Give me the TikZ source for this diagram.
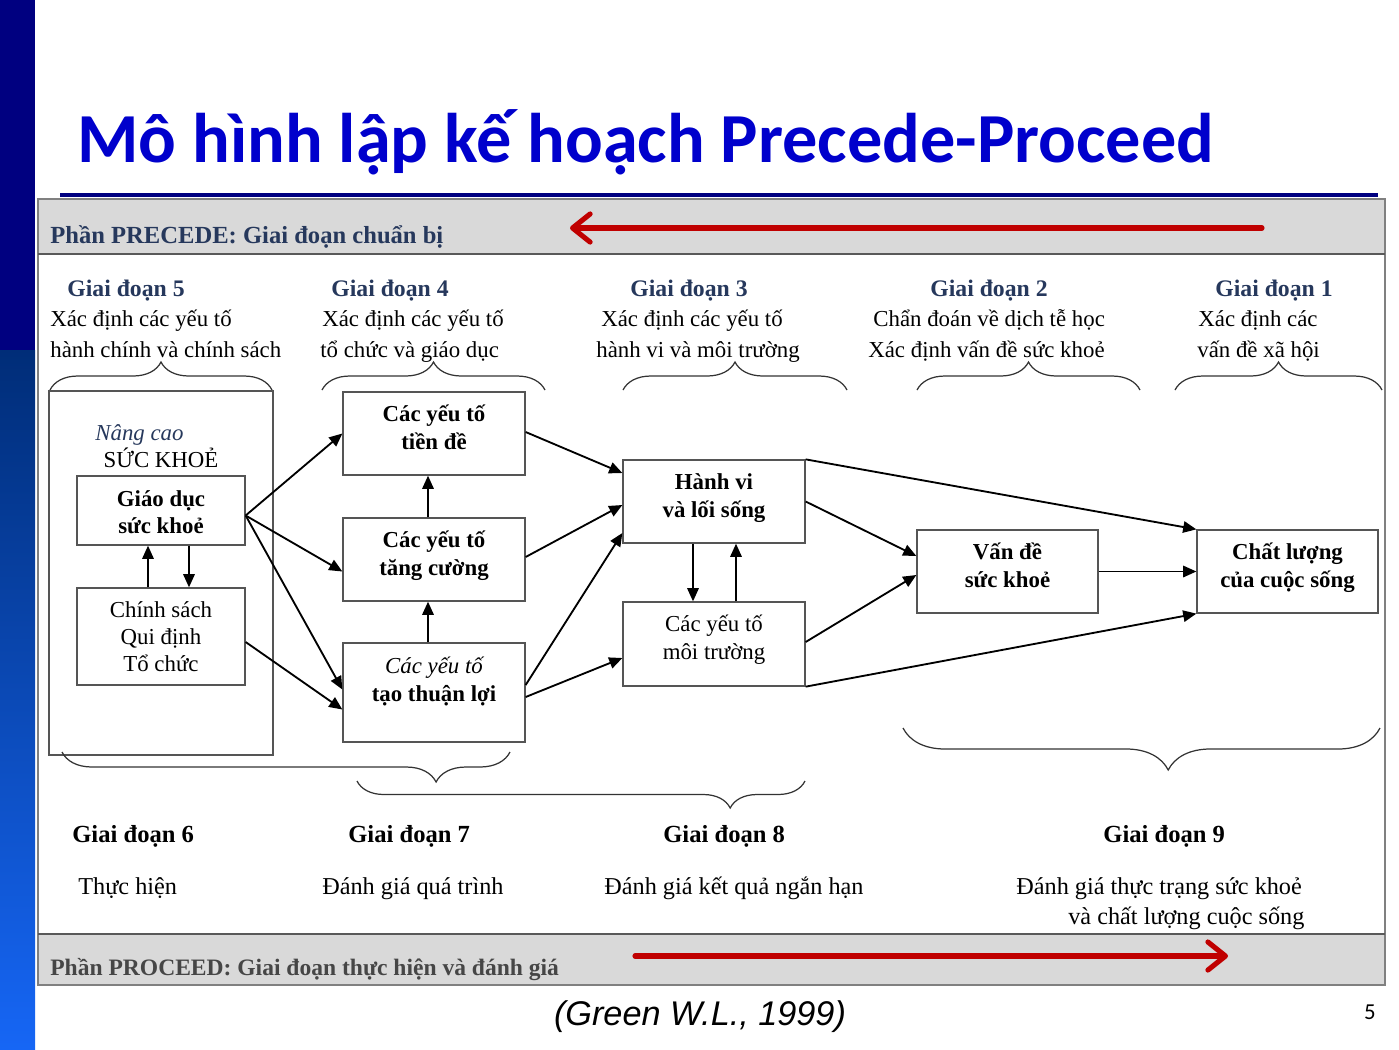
\documentclass[tikz,border=0pt]{standalone}
\usepackage{fontspec}
\setmainfont{Liberation Serif}
\newfontfamily\titlefont{Carlito}
\newfontfamily\arialfont{Liberation Sans}
\usetikzlibrary{arrows.meta,decorations.pathreplacing,calc}
\definecolor{titleblue}{RGB}{0,0,204}
\definecolor{navybar}{RGB}{0,0,128}
\definecolor{barTop}{RGB}{0,45,120}
\definecolor{barBot}{RGB}{22,102,245}
\definecolor{slate}{RGB}{38,56,92}
\definecolor{bandgray}{RGB}{217,217,217}
\definecolor{framegray}{RGB}{128,128,128}
\definecolor{darkred}{RGB}{192,0,0}
\definecolor{boxgray}{RGB}{85,85,85}
\definecolor{bandtext}{RGB}{70,70,70}
\begin{document}
\begin{tikzpicture}[x=0.02cm,y=-0.02cm,
  txt/.style={inner sep=0pt, anchor=base west},
  hdr/.style={txt, font=\bfseries\fontsize{13.5}{16}\selectfont, text=slate},
  desc/.style={txt, font=\fontsize{13}{16}\selectfont},
  bhdr/.style={txt, font=\bfseries\fontsize{14}{17}\selectfont},
  bdesc/.style={txt, font=\fontsize{13.8}{17}\selectfont},
  boxx/.style={draw=boxgray, line width=0.75pt, inner sep=0pt, minimum width=3.64cm, minimum height=1.66cm},
  btext/.style={inner sep=0pt, anchor=base, align=center, font=\fontsize{13}{15.9}\selectfont},
  conn/.style={line width=1.05pt, -{Triangle[length=7.5pt,width=6.5pt]}},
  brc/.style={decorate, draw=black!80, line width=0.7pt},
  redarrow/.style={darkred, line width=2.9pt, line cap=round, -{Straight Barb[length=10pt,width=16pt,round]}}
]
\useasboundingbox (0,0) rectangle (1399,1049);
% left bar
\fill[navybar] (0,0) rectangle (35,350);
\shade[top color=barTop, bottom color=barBot] (0,350) rectangle (35,1049);
% title
\node[txt, font=\titlefont\bfseries\fontsize{40}{48}\selectfont, text=titleblue] (title) at (77,162) {Mô hình lập kế hoạch Precede-Proceed};
\draw[navybar, line width=1.8pt] (60,195) -- (1378,195);
% frame and bands
\fill[bandgray] (38,199) rectangle (1385,254);
\fill[bandgray] (38,934) rectangle (1385,985);
\draw[framegray, line width=0.9pt] (38,199) rectangle (1385,985);
\draw[black!65, line width=0.9pt] (38,254) -- (1385,254);
\draw[black!65, line width=0.9pt] (38,934) -- (1385,934);
\node[txt, font=\bfseries\fontsize{14}{17}\selectfont, text=slate] (precede) at (50,243) {Phần PRECEDE: Giai đoạn chuẩn bị};
\node[txt, font=\bfseries\fontsize{13.4}{16}\selectfont, text=bandtext] (proceed) at (50,975) {Phần PROCEED: Giai đoạn thực hiện và đánh giá};
\coordinate (r1s) at (1262,228); \coordinate (r1e) at (570,228);
\draw[redarrow] (r1s) -- (r1e);
\coordinate (r2s) at (635,956); \coordinate (r2e) at (1228,956);
\draw[redarrow] (r2s) -- (r2e);
% top headers
\node[hdr] (g5) at (67,296) {Giai đoạn 5};
\node[hdr] (g4) at (331,296) {Giai đoạn 4};
\node[hdr] (g3) at (630,296) {Giai đoạn 3};
\node[hdr] (g2) at (930,296) {Giai đoạn 2};
\node[hdr] (g1) at (1215,296) {Giai đoạn 1};
\node[desc] (d5a) at (50,326) {Xác định các yếu tố};
\node[desc] (d5b) at (50,357) {hành chính và chính sách};
\node[desc] (d4a) at (322,326) {Xác định các yếu tố};
\node[desc] (d4b) at (320,357) {tổ chức và giáo dục};
\node[desc] (d3a) at (601,326) {Xác định các yếu tố};
\node[desc] (d3b) at (596,357) {hành vi và môi trường};
\node[desc] (d2a) at (873,326) {Chẩn đoán về dịch tễ học};
\node[desc] (d2b) at (868,357) {Xác định vấn đề sức khoẻ};
\node[desc] (d1a) at (1198,326) {Xác định các};
\node[desc] (d1b) at (1197,357) {vấn đề xã hội};
% top braces
\draw[brc, decoration={brace, amplitude=0.56cm}] (50,390) -- (272,390);
\draw[brc, decoration={brace, amplitude=0.56cm}] (322,390) -- (545,390);
\draw[brc, decoration={brace, amplitude=0.56cm}] (623,390) -- (847,390);
\draw[brc, decoration={brace, amplitude=0.56cm}] (917,390) -- (1140,390);
\draw[brc, decoration={brace, amplitude=0.56cm}] (1175,390) -- (1382,390);
% boxes
\node[boxx, minimum width=4.48cm, minimum height=7.28cm] (outer) at (161,573) {};
\node[txt, font=\itshape\fontsize{13}{16}\selectfont, text=slate] (nang) at (95,440) {Nâng cao};
\node[btext] (suckhoe) at (161,467) {SỨC KHOẺ};
\node[boxx, minimum width=3.36cm, minimum height=1.38cm] (geduc) at (161,510.5) {};
\node[btext, font=\bfseries\fontsize{13}{15.3}\selectfont] (geduct) at (161,533) {Giáo dục\\sức khoẻ};
\node[boxx, minimum width=3.36cm, minimum height=1.94cm] (chinhsach) at (161,636.5) {};
\node[btext, font=\fontsize{13}{15.3}\selectfont] (chinhsacht) at (161,671) {Chính sách\\Qui định\\Tổ chức};
\node[boxx] (tiende) at (434,433.5) {};
\node[btext, font=\bfseries\fontsize{13}{15.9}\selectfont] (tiendet) at (434,449) {Các yếu tố\\tiền đề};
\node[boxx] (tangcuong) at (434,559.5) {};
\node[btext, font=\bfseries\fontsize{13}{15.9}\selectfont] (tangcuongt) at (434,575) {Các yếu tố\\tăng cường};
\node[boxx, minimum height=1.98cm] (taothuanloi) at (434,692.5) {};
\node[btext, font=\bfseries\fontsize{13}{15.9}\selectfont] (taothuanloit) at (434,701) {{\mdseries\itshape Các yếu tố}\\tạo thuận lợi};
\node[boxx] (hanhvi) at (714,501.5) {};
\node[btext, font=\bfseries\fontsize{13}{15.9}\selectfont] (hanhvit) at (714,517) {Hành vi\\và lối sống};
\node[boxx, minimum height=1.68cm] (moitruong) at (714,644) {};
\node[btext] (moitruongt) at (714,659) {Các yếu tố\\môi trường};
\node[boxx, minimum width=3.62cm] (vande) at (1007.5,571.5) {};
\node[btext, font=\bfseries\fontsize{13}{15.9}\selectfont] (vandet) at (1007.5,587) {Vấn đề\\sức khoẻ};
\node[boxx, minimum width=3.62cm] (chatluong) at (1287.5,571.5) {};
\node[btext, font=\bfseries\fontsize{13}{15.9}\selectfont] (chatluongt) at (1287.5,587) {Chất lượng\\của cuộc sống};
% connectors
\coordinate (gd) at ($(geduc.east)+(0,5)$);
\draw[conn] (gd) -- (tiende.west);
\draw[conn] (gd) -- ($(tangcuong.west)+(0,12)$);
\draw[conn] (gd) -- ($(taothuanloi.west)+(0,-3)$);
\draw[conn] ($(chinhsach.east)+(0,5.5)$) -- ($(taothuanloi.west)+(0,17)$);
\draw[conn] ($(chinhsach.north)+(-13,0)$) -- ($(geduc.south)+(-13,0)$);
\draw[conn] ($(geduc.south)+(28,0)$) -- ($(chinhsach.north)+(28,0)$);
\draw[conn] ($(tangcuong.north)+(-6,0)$) -- ($(tiende.south)+(-6,0)$);
\draw[conn] ($(taothuanloi.north)+(-6,0)$) -- ($(tangcuong.south)+(-6,0)$);
\draw[conn] ($(tiende.east)+(0,-1.5)$) -- ($(hanhvi.west)+(0,-28.5)$);
\draw[conn] ($(tangcuong.east)+(0,-2.5)$) -- ($(hanhvi.west)+(0,3.5)$);
\draw[conn] ($(taothuanloi.east)+(0,-7.5)$) -- ($(hanhvi.west)+(0,31.5)$);
\draw[conn] ($(taothuanloi.east)+(0,4.5)$) -- ($(moitruong.west)+(0,14)$);
\draw[conn] ($(hanhvi.south)+(-21,0)$) -- ($(moitruong.north)+(-21,0)$);
\draw[conn] ($(moitruong.north)+(22,0)$) -- ($(hanhvi.south)+(22,0)$);
\draw[conn] (hanhvi.north east) -- (chatluong.north west);
\draw[conn] (hanhvi.east) -- ($(vande.west)+(0,-15.5)$);
\draw[conn] ($(moitruong.east)+(0,-2)$) -- ($(vande.west)+(0,3.5)$);
\draw[conn] (vande.east) -- (chatluong.west);
\draw[conn] (moitruong.south east) -- (chatluong.south west);
% bottom braces
\draw[brc, decoration={brace, amplitude=0.6cm, mirror, aspect=0.835}] (62,752) -- (510,752);
\draw[brc, decoration={brace, amplitude=0.54cm, mirror, aspect=0.833}] (357,781) -- (805,781);
\draw[brc, decoration={brace, amplitude=0.84cm, mirror, aspect=0.556}] (903,728) -- (1380,728);
% bottom texts
\node[bhdr] (g6) at (72,842) {Giai đoạn 6};
\node[bhdr] (g7) at (348,842) {Giai đoạn 7};
\node[bhdr] (g8) at (663,842) {Giai đoạn 8};
\node[bhdr] (g9) at (1103,842) {Giai đoạn 9};
\node[bdesc] (d6) at (78,894) {Thực hiện};
\node[bdesc] (d7) at (322,894) {Đánh giá quá trình};
\node[bdesc] (d8) at (604,894) {Đánh giá kết quả ngắn hạn};
\node[bdesc] (d9a) at (1016,894) {Đánh giá thực trạng sức khoẻ};
\node[bdesc] (d9b) at (1068,924) {và chất lượng cuộc sống};
% source and page number
\node[anchor=base, inner sep=0pt, font=\arialfont\itshape\fontsize{19.5}{23}\selectfont] (src) at (700,1025) {(Green W.L., 1999)};
\node[anchor=base, inner sep=0pt, font=\titlefont\fontsize{13}{15}\selectfont] (pg) at (1370,1019) {5};
\end{tikzpicture}
\end{document}
